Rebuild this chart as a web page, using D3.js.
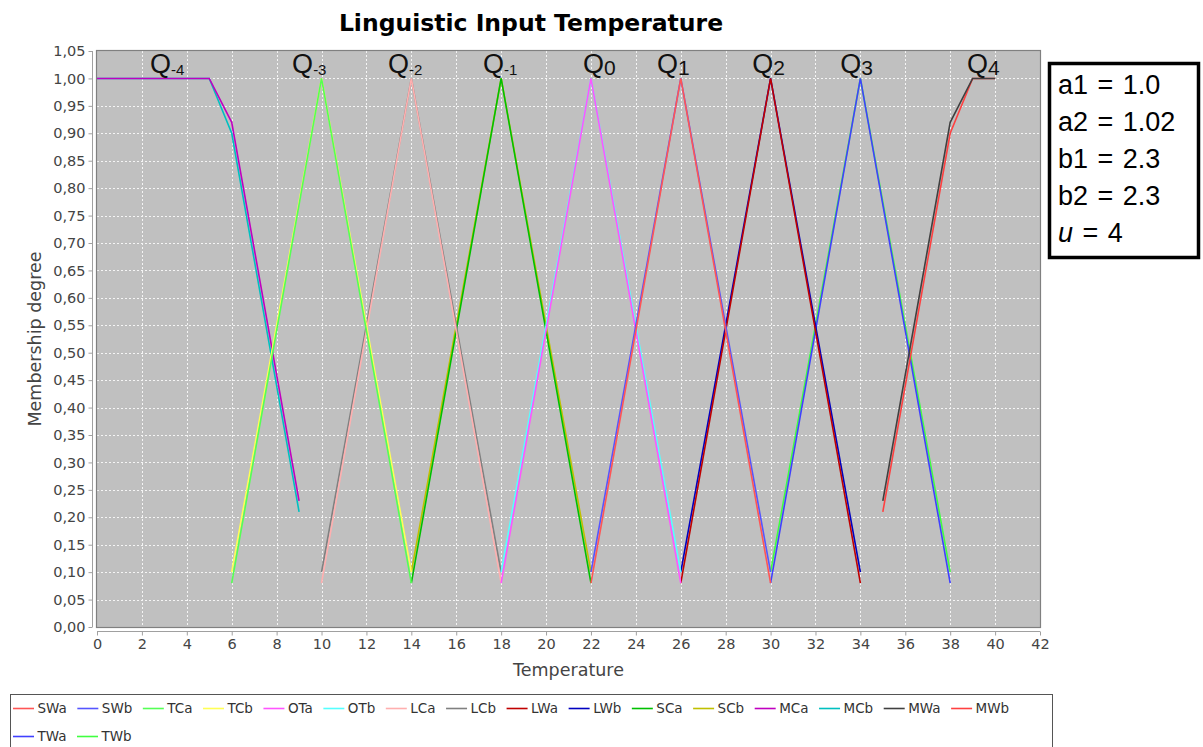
<!DOCTYPE html>
<html>
<head>
<meta charset="utf-8">
<script src="https://cdn.jsdelivr.net/npm/d3@7"></script>
<style>
  body { margin: 0; background: #fff; }
  svg { display: block; }
</style>
</head>
<body>
<div id="chart"></div>
<script>
// chart values
const seriesNames = ["SWa", "SWb", "TCa", "TCb", "OTa", "OTb", "LCa", "LCb", "LWa",
                     "LWb", "SCa", "SCb", "MCa", "MCb", "MWa", "MWb", "TWa", "TWb"];

const seriesX = {
    SWa: [22, 26, 30], SWb: [22, 26, 30],
    TCa: [6, 10, 14], TCb: [6, 10, 14],
    OTa: [18, 22, 26], OTb: [18, 22, 26],
    LCa: [10, 14, 18], LCb: [10, 14, 18],
    LWa: [26, 30, 34], LWb: [26, 30, 34],
    SCa: [14, 18, 22], SCb: [14, 18, 22],
    MCa: [0, 5, 6, 9], MCb: [0, 5, 6, 9],
    MWa: [35, 38, 39, 40], MWb: [35, 38, 39, 40],
    TWa: [30, 34, 38], TWb: [30, 34, 38]
};
const seriesY = {
    SWa: [0.08, 1, 0.08], SWb: [0.10, 1, 0.10],
    TCa: [0.08, 1, 0.08], TCb: [0.10, 1, 0.10],
    OTa: [0.08, 1, 0.08], OTb: [0.10, 1, 0.10],
    LCa: [0.08, 1, 0.08], LCb: [0.10, 1, 0.10],
    LWa: [0.08, 1, 0.08], LWb: [0.10, 1, 0.10],
    SCa: [0.08, 1, 0.08], SCb: [0.10, 1, 0.10],
    MCa: [1, 1, 0.92, 0.23], MCb: [1, 1, 0.90, 0.21],
    MWa: [0.23, 0.92, 1, 1], MWb: [0.21, 0.90, 1, 1],
    TWa: [0.08, 1, 0.08], TWb: [0.10, 1, 0.10]
};

const xTickValues = [0, 2, 4, 6, 8, 10, 12, 14, 16, 18, 20, 22, 24, 26, 28, 30, 32, 34, 36, 38, 40, 42];
const yTickValues = [0, 0.05, 0.10, 0.15, 0.20, 0.25, 0.30, 0.35, 0.40, 0.45, 0.50,
                     0.55, 0.60, 0.65, 0.70, 0.75, 0.80, 0.85, 0.90, 0.95, 1.00, 1.05];

// Q labels: subscript text and left edge in temperature units
const qSubs = ["-4", "-3", "-2", "-1", "0", "1", "2", "3", "4"];
const qPos = [2.36, 8.69, 12.96, 17.19, 21.65, 24.94, 29.18, 33.1, 38.75];

const paramLines = [["a1 = 1.0"], ["a2 = 1.02"], ["b1 = 2.3"], ["b2 = 2.3"], ["u", " = 4"]];

// jfreechart default series colours
const colors = ["#ff5555", "#5555ff", "#55ff55", "#ffff55", "#ff55ff", "#55ffff",
                "#ffafaf", "#808080", "#c00000", "#0000c0", "#00c000", "#c0c000",
                "#c000c0", "#00c0c0", "#404040", "#ff4040", "#4040ff", "#40ff40"];

const svgWidth = 1203;
const svgHeight = 747;

const plot = { left: 97, right: 1040, top: 51, bottom: 627 };

const svg = d3.select("#chart").append("svg")
    .attr("width", svgWidth)
    .attr("height", svgHeight)
    .style("font-family", "'DejaVu Sans', sans-serif");

svg.append("rect").attr("width", svgWidth).attr("height", svgHeight).attr("fill", "#fff");

const x = d3.scaleLinear().domain([0, 42]).range([plot.left, plot.right]);
const y = d3.scaleLinear().domain([0, 1.05]).range([plot.bottom, plot.top]);

// title
svg.append("text")
    .attr("x", 531)
    .attr("y", 31)
    .attr("text-anchor", "middle")
    .style("font-weight", "bold")
    .style("font-size", "23.5px")
    .attr("fill", "#000")
    .text("Linguistic Input Temperature");

// plot background
svg.append("rect")
    .attr("x", plot.left)
    .attr("y", plot.top)
    .attr("width", plot.right - plot.left)
    .attr("height", plot.bottom - plot.top)
    .attr("fill", "#c0c0c0");

// gridlines
const grid = svg.append("g").attr("stroke", "#ffffff").attr("stroke-width", 1)
    .attr("stroke-dasharray", "2,2").attr("opacity", 0.85);

grid.selectAll("line.vx")
    .data(xTickValues.slice(1, -1))
    .enter().append("line")
    .attr("x1", d => Math.round(x(d)) + 0.5).attr("x2", d => Math.round(x(d)) + 0.5)
    .attr("y1", plot.top).attr("y2", plot.bottom);

grid.selectAll("line.hy")
    .data(yTickValues.slice(1, -1))
    .enter().append("line")
    .attr("y1", d => Math.round(y(d)) + 0.5).attr("y2", d => Math.round(y(d)) + 0.5)
    .attr("x1", plot.left).attr("x2", plot.right);

// series lines, drawn last-to-first so series 0 sits on top
const line = d3.line().x(d => x(d[0])).y(d => y(d[1]));

const seriesData = seriesNames.map((name, i) => ({
    name: name,
    color: colors[i],
    points: seriesX[name].map((v, j) => [v, seriesY[name][j]])
}));

svg.append("g")
    .selectAll("path")
    .data(seriesData.slice().reverse())
    .enter().append("path")
    .attr("d", d => line(d.points))
    .attr("fill", "none")
    .attr("stroke", d => d.color)
    .attr("stroke-width", 1.6)
    .attr("stroke-linejoin", "miter");

// plot outline
svg.append("rect")
    .attr("x", plot.left - 0.5)
    .attr("y", plot.top - 0.5)
    .attr("width", plot.right - plot.left + 1)
    .attr("height", plot.bottom - plot.top + 1)
    .attr("fill", "none")
    .attr("stroke", "#808080")
    .attr("stroke-width", 1.2);

// axes
const fmt = d => d3.format(".2f")(d).replace(".", ",");

const xAxis = d3.axisBottom(x).tickValues(xTickValues).tickSize(4).tickPadding(3);
const yAxis = d3.axisLeft(y).tickValues(yTickValues).tickSize(4).tickPadding(3).tickFormat(fmt);

const xAxisG = svg.append("g")
    .attr("transform", `translate(0, ${plot.bottom + 4.5})`)
    .call(xAxis);

const yAxisG = svg.append("g")
    .attr("transform", `translate(${plot.left - 4.5}, 0)`)
    .call(yAxis);

[xAxisG, yAxisG].forEach(g => {
    g.select(".domain").attr("stroke", "#a0a0a0").attr("d", null);
    g.selectAll(".tick line").attr("stroke", "#a0a0a0");
    g.selectAll(".tick text")
        .attr("fill", "#444")
        .style("font-family", "'DejaVu Sans', sans-serif")
        .style("font-size", "14.5px");
});
xAxisG.select(".domain").attr("d", `M${plot.left},0H${plot.right}`);
yAxisG.select(".domain").attr("d", `M0,${plot.top}V${plot.bottom}`);

// axis labels
svg.append("text")
    .attr("x", (plot.left + plot.right) / 2)
    .attr("y", 676)
    .attr("text-anchor", "middle")
    .attr("fill", "#444")
    .style("font-size", "17.5px")
    .text("Temperature");

svg.append("text")
    .attr("transform", `translate(41, ${(plot.top + plot.bottom) / 2}) rotate(-90)`)
    .attr("text-anchor", "middle")
    .attr("fill", "#444")
    .style("font-size", "17.5px")
    .text("Membership degree");

// Q labels above the peaks
const qG = svg.append("g")
    .style("font-family", "'Liberation Sans', Arial, sans-serif")
    .attr("fill", "#111");

qSubs.forEach((s, i) => {
    const t = qG.append("text")
        .attr("x", x(qPos[i]))
        .attr("y", 73)
        .style("font-size", "27px");
    t.append("tspan").text("Q");
    t.append("tspan")
        .attr("dy", 2)
        .style("font-size", s.startsWith("-") ? "15px" : "21px")
        .text(s);
});

// parameter box
const box = svg.append("g").style("font-family", "'Liberation Sans', Arial, sans-serif");
box.append("rect")
    .attr("x", 1049.5)
    .attr("y", 63.5)
    .attr("width", 149)
    .attr("height", 194)
    .attr("fill", "#fff")
    .attr("stroke", "#000")
    .attr("stroke-width", 3.5);

paramLines.forEach((parts, i) => {
    const t = box.append("text")
        .attr("x", 1058)
        .attr("y", 94 + i * 37)
        .attr("fill", "#000")
        .style("font-size", "27px")
        .style("word-spacing", "2px");
    if (parts.length === 1) {
        t.text(parts[0]);
    } else {
        t.append("tspan").style("font-style", "italic").text(parts[0]);
        t.append("tspan").text(parts[1]);
    }
});

// legend
const legend = svg.append("g");
legend.append("rect")
    .attr("x", 10.5)
    .attr("y", 694.5)
    .attr("width", 1042)
    .attr("height", 60)
    .attr("fill", "#fff")
    .attr("stroke", "#555")
    .attr("stroke-width", 1);

let lx = 13;
let row = 0;
seriesData.forEach(d => {
    const item = legend.append("g");
    const label = item.append("text")
        .attr("x", 24.5)
        .attr("y", 5)
        .attr("fill", "#333")
        .style("font-size", "13.5px")
        .text(d.name);
    const w = 24.5 + label.node().getComputedTextLength() + 10.5;
    if (lx + w > 1052) {
        lx = 13;
        row += 1;
    }
    item.attr("transform", `translate(${lx}, ${708 + row * 28})`);
    item.append("line")
        .attr("x1", 0).attr("x2", 21)
        .attr("y1", 0.5).attr("y2", 0.5)
        .attr("stroke", d.color)
        .attr("stroke-width", 1.6);
    lx += w;
});
</script>
</body>
</html>
